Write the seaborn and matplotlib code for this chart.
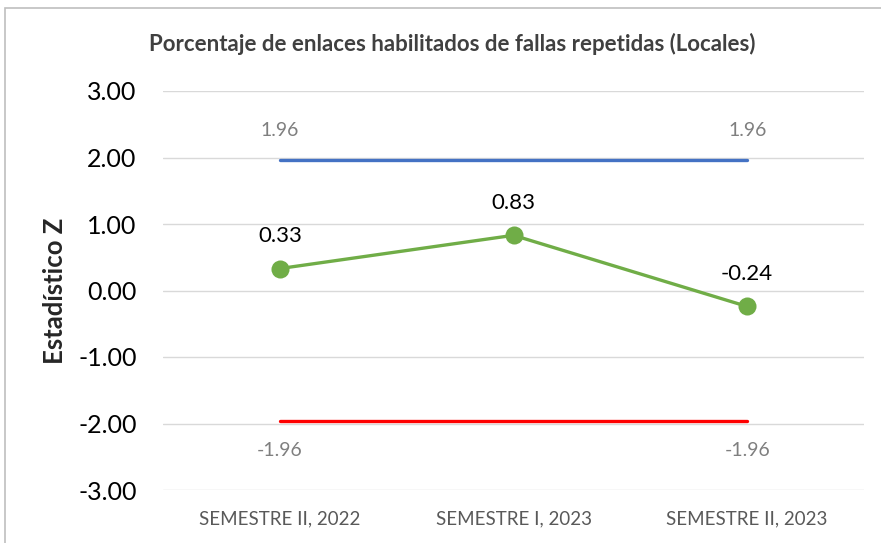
import matplotlib.pyplot as plt
import matplotlib.patches as mpatches
import seaborn as sns
import pandas as pd
import numpy as np

# Data
periods = ["SEMESTRE II, 2022", "SEMESTRE I, 2023", "SEMESTRE II, 2023"]
z_values = [0.33, 0.83, -0.24]
upper_limit = [1.96, 1.96, 1.96]
lower_limit = [-1.96, -1.96, -1.96]

title = "Porcentaje de enlaces habilitados de fallas repetidas (Locales)"
y_label = "Estadístico Z"

df = pd.DataFrame({
    "idx": np.arange(len(periods)),
    "period": periods,
    "z": z_values,
    "upper": upper_limit,
    "lower": lower_limit,
})

sns.set_style("white")
plt.rcParams['font.family'] = ['Lato', 'DejaVu Sans']

fig = plt.figure(figsize=(8.81, 5.43), dpi=100)
ax = fig.add_axes([163 / 881, 1 - 490 / 543, (864 - 163) / 881, (490 - 91) / 543])

# chart-area border (left and top edges visible)
fig.patches.append(mpatches.Rectangle((5 / 881, -0.1), 1.2, 1.1 - 8 / 543,
                                      transform=fig.transFigure, fill=False,
                                      edgecolor="#bfbfbf", linewidth=1.2))

sns.lineplot(data=df, x="idx", y="upper", ax=ax, color="#4472C4", linewidth=2.4)
sns.lineplot(data=df, x="idx", y="lower", ax=ax, color="#FF0000", linewidth=2.4)
sns.lineplot(data=df, x="idx", y="z", ax=ax, color="#70AD47", linewidth=2.4,
             marker="o", markersize=13, markeredgewidth=0)

# labels for threshold lines at ends
for i in [0, len(periods) - 1]:
    ax.annotate(f"{upper_limit[i]:.2f}", (df["idx"][i], upper_limit[i]),
                xytext=(0, 15), textcoords="offset points", ha="center", va="bottom",
                fontsize=14, color="#7f7f7f")
    ax.annotate(f"{lower_limit[i]:.2f}", (df["idx"][i], lower_limit[i]),
                xytext=(0, -15), textcoords="offset points", ha="center", va="top",
                fontsize=14, color="#7f7f7f")

for i, v in enumerate(z_values):
    ax.annotate(f"{v:.2f}", (df["idx"][i], v), xytext=(0, 16),
                textcoords="offset points", ha="center", va="bottom",
                fontsize=16, color="black")

ax.set_xlim(-0.5, len(periods) - 0.5)
ax.set_ylim(-3, 3)
ax.set_yticks(np.arange(-3, 4, 1))
ax.set_yticklabels([f"{t:.2f}" for t in np.arange(-3, 4, 1)], fontsize=18, color="black")
ax.set_xticks(df["idx"])
ax.set_xticklabels(periods, fontsize=13.5, color="#595959")
ax.tick_params(axis="both", length=0)
ax.tick_params(axis="y", pad=19)
ax.tick_params(axis="x", pad=15)
ax.yaxis.grid(True, color="#d9d9d9", linewidth=1)
ax.set_axisbelow(True)
for s in ax.spines.values():
    s.set_visible(False)

ax.set_xlabel("")
ax.set_ylabel(y_label, fontsize=18.5, fontweight="bold", labelpad=8)
fig.text(452 / 881, 1 - 44 / 543, title, ha="center", va="center",
         fontsize=16, fontweight="bold", color="#404040")

fig.savefig("out.png", dpi=100)
